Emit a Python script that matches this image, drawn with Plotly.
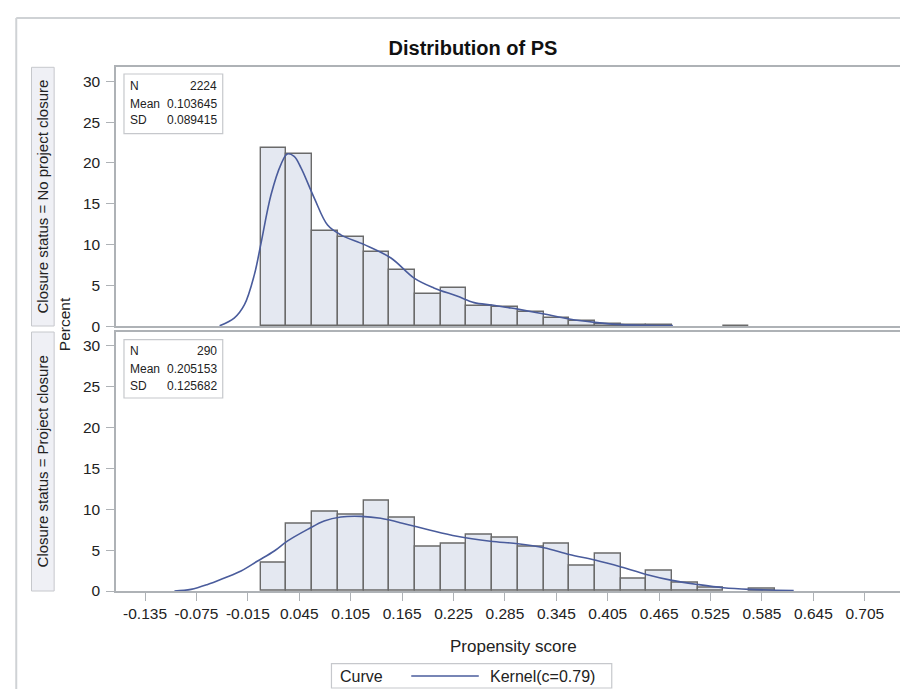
import plotly.graph_objects as go

# ---------------- data ----------------
bin_mid = [0.015, 0.045, 0.075, 0.105, 0.135, 0.165, 0.195, 0.225, 0.255, 0.285,
           0.315, 0.345, 0.375, 0.405, 0.435, 0.465, 0.495, 0.525, 0.555, 0.585]
bin_width = 0.03

pct_no_closure = [21.8, 21.06, 11.67, 10.94, 9.06, 6.95, 3.94, 4.67, 2.45, 2.33,
                  1.79, 1.05, 0.69, 0.32, 0.16, 0.16, 0.0, 0.0, 0.09, 0.0]
pct_closure = [3.45, 8.28, 9.66, 9.31, 11.03, 8.97, 5.45, 5.8, 6.9, 6.55,
               5.45, 5.8, 3.15, 4.55, 1.45, 2.45, 1.05, 0.36, 0.0, 0.34]

kern_no_x = [-0.048, -0.031, -0.019, -0.0075, 0.0, 0.012, 0.0235, 0.031, 0.039, 0.047,
             0.0625, 0.078, 0.0935, 0.121, 0.152, 0.179, 0.202, 0.229, 0.249, 0.270,
             0.288, 0.300, 0.331, 0.360, 0.390, 0.421, 0.450, 0.481]
kern_no_y = [0.07, 1.0, 2.65, 6.3, 10.0, 16.1, 19.8, 21.1, 20.8, 19.4,
             15.7, 12.4, 11.2, 10.0, 8.36, 5.9, 4.7, 3.7, 2.9, 2.6,
             2.3, 2.1, 1.5, 0.9, 0.48, 0.2, 0.12, 0.08]

kern_pc_x = [-0.1007, -0.0814, -0.062, -0.0424, -0.023, -0.0036, 0.0158, 0.031, 0.0547, 0.074,
             0.0935, 0.117, 0.140, 0.171, 0.1945, 0.229, 0.268, 0.300, 0.3305, 0.360,
             0.390, 0.4206, 0.450, 0.480, 0.510, 0.540, 0.571, 0.622]
kern_pc_y = [0.0, 0.2, 0.8, 1.6, 2.45, 3.67, 4.9, 6.1, 7.54, 8.57,
             9.06, 9.14, 8.9, 8.15, 7.54, 6.7, 6.1, 5.79, 5.3, 4.48,
             3.79, 2.94, 2.03, 1.3, 0.8, 0.4, 0.2, 0.05]

x_ticks = [-0.135, -0.075, -0.015, 0.045, 0.105, 0.165, 0.225, 0.285, 0.345, 0.405,
           0.465, 0.525, 0.585, 0.645, 0.705]
x_tick_labels = ["-0.135", "-0.075", "-0.015", "0.045", "0.105", "0.165", "0.225", "0.285",
                 "0.345", "0.405", "0.465", "0.525", "0.585", "0.645", "0.705"]
y_ticks = [0, 5, 10, 15, 20, 25, 30]

panel_labels = ["Closure status = No project closure", "Closure status = Project closure"]
stats_no = [("N", "2224"), ("Mean", "0.103645"), ("SD", "0.089415")]
stats_pc = [("N", "290"), ("Mean", "0.205153"), ("SD", "0.125682")]

# ---------------- styling ----------------
FONT = "Liberation Sans, Arial, sans-serif"
TXT = "#222222"
FRAME = "#aeb2b6"
BAR_FILL = "#e4e8f1"
BAR_LINE = "#6a6a6a"
CURVE = "#4a5c9c"

W, H = 908, 689
ML, MR, MT, MB = 108, 2, 59, 106
PW, PH = W - ML - MR, H - MT - MB
BOTTOM = H - MB


def px(xp):
    return (xp - ML) / PW


def py(yp):
    return (BOTTOM - yp) / PH


def nonzero(xs, ys):
    pairs = [(a, b) for a, b in zip(xs, ys) if b > 0]
    return [p[0] for p in pairs], [p[1] for p in pairs]


top_dom = [py(318.3), 1.0]
bot_dom = [0.0, py(323.7)]
x_range = [(ML - 253.1) / 859.0, (ML + PW - 253.1) / 859.0]
y_range = [0, 31.75]

fig = go.Figure()

bx, by = nonzero(bin_mid, pct_no_closure)
fig.add_trace(go.Bar(x=bx, y=by, width=bin_width, xaxis="x", yaxis="y",
                     marker=dict(color=BAR_FILL, line=dict(color=BAR_LINE, width=1.4)),
                     showlegend=False))
fig.add_trace(go.Scatter(x=kern_no_x, y=kern_no_y, mode="lines", xaxis="x", yaxis="y",
                         line=dict(color=CURVE, width=1.6, shape="spline"), showlegend=False))
bx2, by2 = nonzero(bin_mid, pct_closure)
fig.add_trace(go.Bar(x=bx2, y=by2, width=bin_width, xaxis="x2", yaxis="y2",
                     marker=dict(color=BAR_FILL, line=dict(color=BAR_LINE, width=1.4)),
                     showlegend=False))
fig.add_trace(go.Scatter(x=kern_pc_x, y=kern_pc_y, mode="lines", xaxis="x2", yaxis="y2",
                         line=dict(color=CURVE, width=1.6, shape="spline"), showlegend=False))

yaxis_common = dict(range=y_range, tickvals=y_ticks, ticks="outside", ticklen=8,
                    tickcolor=FRAME, tickwidth=1, showline=True, mirror=True,
                    linecolor=FRAME, linewidth=1.5, showgrid=False, zeroline=False,
                    tickfont=dict(family=FONT, size=15.5, color=TXT), ticklabelstandoff=3)
xaxis_common = dict(range=x_range, showline=True, mirror=True, linecolor=FRAME,
                    linewidth=1.5, showgrid=False, zeroline=False)

fig.update_layout(
    width=W, height=H,
    margin=dict(l=ML, r=MR, t=MT, b=MB),
    paper_bgcolor="white", plot_bgcolor="white",
    bargap=0,
    xaxis=dict(**xaxis_common, domain=[0, 1], anchor="y", showticklabels=False, ticks=""),
    yaxis=dict(**yaxis_common, domain=top_dom, anchor="x"),
    xaxis2=dict(**xaxis_common, domain=[0, 1], anchor="y2", matches="x",
                tickvals=x_ticks, ticktext=x_tick_labels, ticks="outside", ticklen=8,
                tickcolor=FRAME, tickwidth=1,
                tickfont=dict(family=FONT, size=15.5, color=TXT)),
    yaxis2=dict(**yaxis_common, domain=bot_dom, anchor="x2"),
    title=dict(text="<b>Distribution of PS</b>", x=465 / W, xref="container", xanchor="center",
               y=1 - 40 / H, yref="container", yanchor="middle",
               font=dict(family=FONT, size=20, color="#111111")),
    font=dict(family=FONT, color=TXT),
)

shapes = []
annotations = []

# outer graph border
shapes.append(dict(type="line", xref="paper", yref="paper", x0=px(8), x1=px(8), y0=py(10), y1=py(H + 2),
                   line=dict(color="#cfd2d5", width=2)))
shapes.append(dict(type="line", xref="paper", yref="paper", x0=px(8), x1=px(W + 2), y0=py(10), y1=py(10),
                   line=dict(color="#cfd2d5", width=2)))

# row header boxes
for (y0p, y1p), label in zip([(59.3, 318.0), (324.0, 583.0)], panel_labels):
    shapes.append(dict(type="rect", xref="paper", yref="paper", x0=px(23.3), x1=px(46),
                       y0=py(y1p), y1=py(y0p), fillcolor="#eff0f5",
                       line=dict(color="#c6c8cc", width=1)))
    annotations.append(dict(xref="paper", yref="paper", x=px(34.7), y=py((y0p + y1p) / 2),
                            text=label, showarrow=False, textangle=-90,
                            font=dict(family=FONT, size=15, color=TXT),
                            xanchor="center", yanchor="middle"))

# Percent label
annotations.append(dict(xref="paper", yref="paper", x=px(56), y=py(316), text="Percent",
                        showarrow=False, textangle=-90, font=dict(family=FONT, size=15.5, color=TXT),
                        xanchor="center", yanchor="middle"))

# statistics insets
for (bt, bb), rows_y, stats in [((66.0, 125.7), (78.3, 95.5, 112.3), stats_no),
                                ((331.7, 390.0), (343.0, 360.5, 377.7), stats_pc)]:
    shapes.append(dict(type="rect", xref="paper", yref="paper", x0=px(116), x1=px(215),
                       y0=py(bb), y1=py(bt), fillcolor="white",
                       line=dict(color="#c6c8cc", width=1.2), layer="above"))
    for yy, (lab, val) in zip(rows_y, stats):
        annotations.append(dict(xref="paper", yref="paper", x=px(120), y=py(yy), text=lab,
                                showarrow=False, xanchor="left", yanchor="middle",
                                font=dict(family=FONT, size=12, color=TXT)))
        annotations.append(dict(xref="paper", yref="paper", x=px(211), y=py(yy), text=val,
                                showarrow=False, xanchor="right", yanchor="middle",
                                font=dict(family=FONT, size=12, color=TXT)))

# x axis title
annotations.append(dict(xref="paper", yref="paper", x=px(506), y=py(638.3), text="Propensity score",
                        showarrow=False, xanchor="center", yanchor="middle",
                        font=dict(family=FONT, size=17, color=TXT)))

# legend
shapes.append(dict(type="rect", xref="paper", yref="paper", x0=px(324), x1=px(605),
                   y0=py(680), y1=py(655.7), fillcolor="white",
                   line=dict(color="#c6c8cc", width=1.2)))
shapes.append(dict(type="line", xref="paper", yref="paper", x0=px(404), x1=px(471.7),
                   y0=py(668), y1=py(668), line=dict(color=CURVE, width=1.6)))
annotations.append(dict(xref="paper", yref="paper", x=px(331), y=py(668), text="Curve",
                        showarrow=False, xanchor="left", yanchor="middle",
                        font=dict(family=FONT, size=16, color=TXT)))
annotations.append(dict(xref="paper", yref="paper", x=px(481), y=py(668), text="Kernel(c=0.79)",
                        showarrow=False, xanchor="left", yanchor="middle",
                        font=dict(family=FONT, size=16, color=TXT)))

fig.update_layout(shapes=shapes, annotations=annotations)

fig.write_html("out.html")
